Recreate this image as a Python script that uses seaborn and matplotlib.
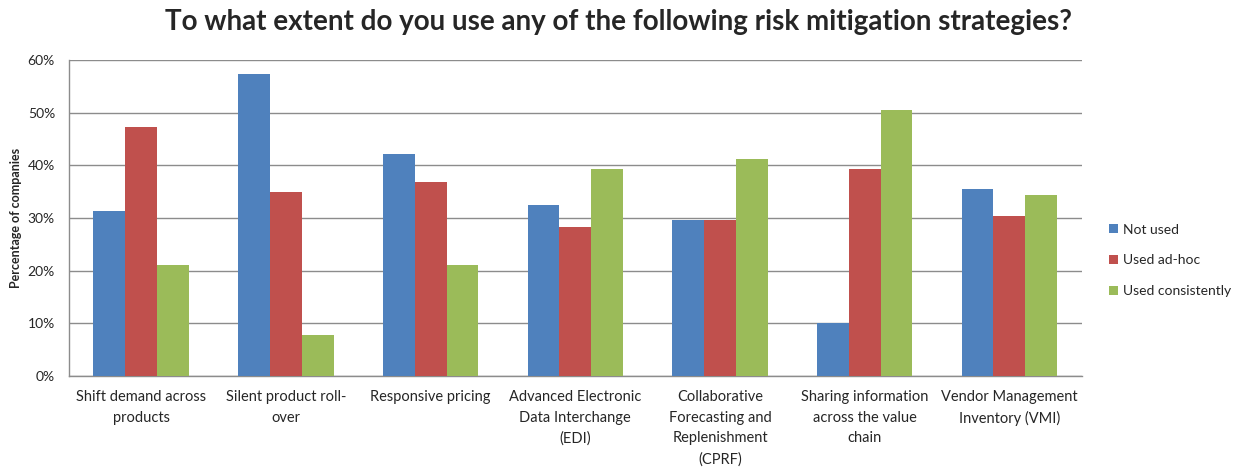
import pandas as pd
import matplotlib.pyplot as plt
import seaborn as sns
from matplotlib.ticker import PercentFormatter
from matplotlib.patches import Patch

# --- data ---
strategies = [
    "Shift demand across\nproducts",
    "Silent product roll-\nover",
    "Responsive pricing",
    "Advanced Electronic\nData Interchange\n(EDI)",
    "Collaborative\nForecasting and\nReplenishment\n(CPRF)",
    "Sharing information\nacross the value\nchain",
    "Vendor Management\nInventory (VMI)",
]
series_names = ["Not used", "Used ad-hoc", "Used consistently"]
not_used = [0.314, 0.573, 0.421, 0.324, 0.296, 0.101, 0.356]
used_adhoc = [0.473, 0.350, 0.369, 0.284, 0.296, 0.393, 0.304]
used_consistently = [0.211, 0.079, 0.211, 0.393, 0.412, 0.506, 0.343]
colors = ["#4F81BD", "#C0504D", "#9BBB59"]

def main():
    rows = []
    for name, vals in zip(series_names, [not_used, used_adhoc, used_consistently]):
        for s, v in zip(strategies, vals):
            rows.append({"Strategy": s, "Usage": name, "Share": v})
    df = pd.DataFrame(rows)

    sns.set_style("white")
    plt.rcParams["font.family"] = ["Lato", "DejaVu Sans"]

    fig = plt.figure(figsize=(12.52, 4.69), dpi=100)
    ax = fig.add_axes([0.055, 0.198, 0.809, 0.674])

    sns.barplot(data=df, x="Strategy", y="Share", hue="Usage",
                palette=colors, saturation=1, width=0.66, gap=0,
                order=strategies, hue_order=series_names, ax=ax,
                legend=False, zorder=3, linewidth=0, edgecolor="none")

    ax.set_ylim(0, 0.6)
    ax.set_yticks([0, 0.1, 0.2, 0.3, 0.4, 0.5, 0.6])
    ax.yaxis.set_major_formatter(PercentFormatter(1.0, decimals=0))
    ax.grid(axis="y", color="#8c8c8c", linewidth=1, zorder=0)
    ax.set_axisbelow(True)
    for side in ["top", "right"]:
        ax.spines[side].set_visible(False)
    for side in ["left", "bottom"]:
        ax.spines[side].set_color("#8c8c8c")
        ax.spines[side].set_linewidth(1)

    ax.tick_params(axis="y", length=4, color="#8c8c8c", labelsize=10, pad=6)
    ax.tick_params(axis="x", length=0, labelsize=10.5, pad=10)
    for lbl in ax.get_xticklabels():
        lbl.set_linespacing(1.6)
        lbl.set_verticalalignment("top")

    ax.set_xlabel("")
    ax.set_ylabel("Percentage of companies", fontsize=9, fontweight="bold", labelpad=4)

    fig.suptitle("To what extent do you use any of the following risk mitigation strategies?",
                 x=0.494, y=0.98, fontsize=20, fontweight="bold")

    handles = [Patch(facecolor=c, edgecolor="none", label=n) for n, c in zip(series_names, colors)]
    fig.legend(handles=handles, loc="center left", bbox_to_anchor=(0.876, 0.445),
               frameon=False, fontsize=10, handlelength=0.6, handleheight=0.6,
               handletextpad=0.4, labelspacing=1.35)

    fig.savefig("out.png", dpi=100)

if __name__ == "__main__":
    main()
